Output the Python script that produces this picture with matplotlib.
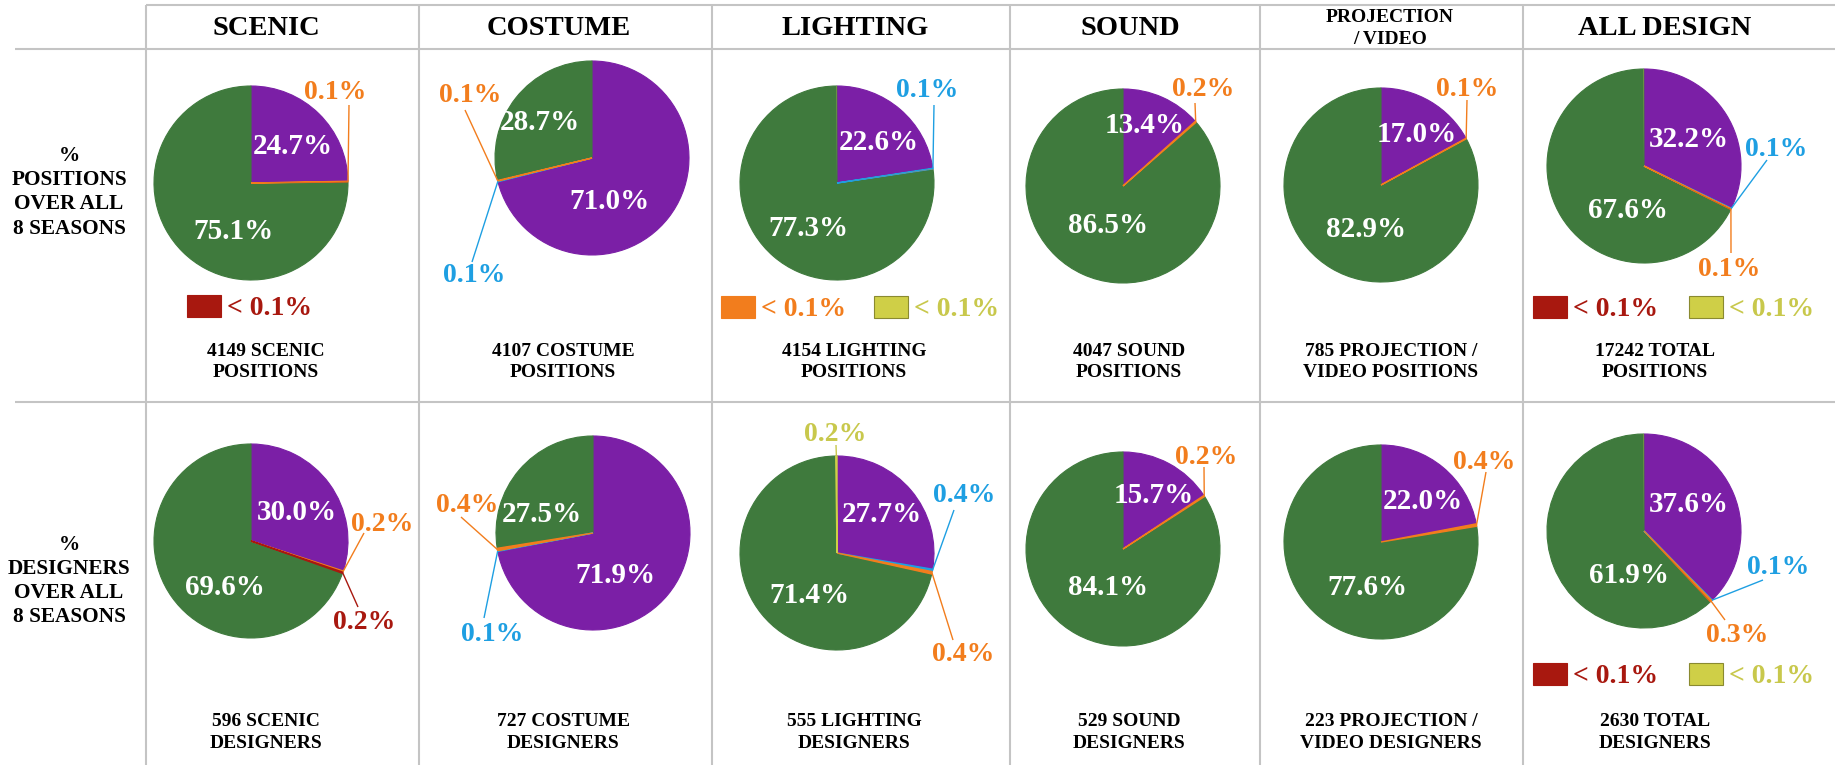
import matplotlib
matplotlib.use('Agg')
import matplotlib.pyplot as plt
from matplotlib.patches import Rectangle
import numpy as np

W, H = 1835, 765
FONT = 'Liberation Serif'

# slice order (clockwise from 12 o'clock): purple, blue, orange, dark red, green, yellow
SLICE_COLORS = ['#7b1fa6', '#1e9fe2', '#f27d1d', '#a8180f', '#3f7a3d', '#cfcf47']
TEXT_COLORS = ['#ffffff', '#1e9fe2', '#f27d1d', '#a8180f', '#ffffff', '#c8c84c']

COLUMNS = ['SCENIC', 'COSTUME', 'LIGHTING', 'SOUND', 'PROJECTION\n/ VIDEO', 'ALL DESIGN']
ROW_LABELS = [['%', 'POSITIONS', 'OVER ALL', '8 SEASONS'],
              ['%', 'DESIGNERS', 'OVER ALL', '8 SEASONS']]

TOTAL_POSITIONS = [4149, 4107, 4154, 4047, 785, 17242]
TOTAL_DESIGNERS = [596, 727, 555, 529, 223, 2630]
CAPTION_WORDS = [('SCENIC', ''), ('COSTUME', ''), ('LIGHTING', ''), ('SOUND', ''),
                 ('PROJECTION /', 'VIDEO '), ('TOTAL', '')]

# values in percent (values shown as "< 0.1%" estimated as 0.05)
POS_SCENIC = [24.7, 0.0, 0.1, 0.05, 75.1, 0.0]
POS_COSTUME = [71.0, 0.1, 0.1, 0.0, 28.7, 0.0]
POS_LIGHTING = [22.6, 0.1, 0.05, 0.0, 77.3, 0.05]
POS_SOUND = [13.4, 0.0, 0.2, 0.0, 86.5, 0.0]
POS_PROJECTION = [17.0, 0.0, 0.1, 0.0, 82.9, 0.0]
POS_ALL = [32.2, 0.1, 0.1, 0.05, 67.6, 0.05]

DES_SCENIC = [30.0, 0.0, 0.2, 0.2, 69.6, 0.0]
DES_COSTUME = [71.9, 0.1, 0.4, 0.0, 27.5, 0.0]
DES_LIGHTING = [27.7, 0.4, 0.4, 0.0, 71.4, 0.2]
DES_SOUND = [15.7, 0.0, 0.2, 0.0, 84.1, 0.0]
DES_PROJECTION = [22.0, 0.0, 0.4, 0.0, 77.6, 0.0]
DES_ALL = [37.6, 0.1, 0.3, 0.05, 61.9, 0.05]

VALUES = [[POS_SCENIC, POS_COSTUME, POS_LIGHTING, POS_SOUND, POS_PROJECTION, POS_ALL],
          [DES_SCENIC, DES_COSTUME, DES_LIGHTING, DES_SOUND, DES_PROJECTION, DES_ALL]]

# ---------------- layout (image pixel coords, y down) ----------------
R = 97
CENTERS = [[(251, 183), (592, 158), (837, 183), (1123, 186), (1381, 185), (1644, 166)],
           [(251, 541), (593, 533), (837, 553), (1123, 549), (1381, 542), (1644, 531)]]
# inner label positions: purple, green
INNER = [[((293, 144), (233, 229)), ((609, 199), (540, 120)), ((879, 140), (808, 226)),
          ((1145, 123), (1108, 223)), ((1417, 132), (1366, 227)), ((1689, 137), (1628, 208))],
         [((297, 510), (225, 585)), ((615, 573), (542, 512)), ((882, 512), (809, 593)),
          ((1154, 493), (1108, 585)), ((1423, 499), (1367, 585)), ((1689, 502), (1629, 573))]]
# outer labels: (slice index, label centre, leader start)
OUTER = [[[(2, (335, 90), (349, 105))],
          [(2, (470, 93), (465, 110)), (1, (474, 273), (472, 262))],
          [(1, (927, 88), (934, 105))],
          [(2, (1203, 87), (1195, 103))],
          [(2, (1467, 87), (1467, 100))],
          [(1, (1776, 147), (1767, 160)), (2, (1729, 267), (1731, 253))]],
         [[(2, (382, 522), (364, 533)), (3, (364, 620), (358, 607))],
          [(2, (467, 503), (461, 517)), (1, (492, 632), (484, 618))],
          [(5, (835, 432), (836, 445)), (1, (964, 493), (954, 510)), (2, (963, 652), (953, 640))],
          [(2, (1206, 455), (1204, 467))],
          [(2, (1484, 460), (1486, 472))],
          [(1, (1778, 565), (1763, 580)), (2, (1737, 633), (1725, 620))]]]
# legends for "< 0.1%" slices: (slice index, square left x, y centre)
LEGENDS = [[[(3, 187, 306)], [], [(2, 721, 307), (5, 874, 307)], [], [], [(3, 1533, 307), (5, 1689, 307)]],
           [[], [], [], [], [], [(3, 1533, 674), (5, 1689, 674)]]]
HEADER_X = [266, 559, 855, 1130, 1390, 1665]
CAPTION_X = [266, 563, 854, 1129, 1391, 1655]
CAPTION_Y = [(350, 371), (720, 742)]
ROW_LABEL_Y = [[154, 178, 202, 227], [543, 567, 591, 615]]
V_LINES = [146, 419, 712, 1010, 1260, 1523]

fig = plt.figure(figsize=(W / 100, H / 100), dpi=100)
ax = fig.add_axes([0, 0, 1, 1])


def put(x, y, s, size, color='black', ha='center'):
    px = size * 100 / 72
    ax.text(x, H - (y + 0.33 * px), s, fontsize=size, fontfamily=FONT,
            fontweight='bold', color=color, ha=ha, va='baseline')


def line(x0, y0, x1, y1, color='#c4c4c4', lw=1.5, z=1):
    ax.plot([x0, x1], [H - y0, H - y1], color=color, lw=lw, solid_capstyle='butt', zorder=z)


# grid
line(V_LINES[0], 5, W, 5)
line(15, 49, W, 49)
line(15, 402, W, 402)
for x in V_LINES:
    line(x, 5, x, H)

# headers
for j, name in enumerate(COLUMNS):
    if '\n' in name:
        a, b = name.split('\n')
        put(HEADER_X[j], 16, a, 14)
        put(HEADER_X[j], 38, b, 14)
    else:
        put(HEADER_X[j], 26, name, 20.5)

# row labels
for r in range(2):
    for s, y in zip(ROW_LABELS[r], ROW_LABEL_Y[r]):
        put(69, y, s, 15.3)

for r in range(2):
    totals = TOTAL_POSITIONS if r == 0 else TOTAL_DESIGNERS
    kind = 'POSITIONS' if r == 0 else 'DESIGNERS'
    for j in range(6):
        vals = VALUES[r][j]
        cx, cy = CENTERS[r][j]
        idx = [i for i, v in enumerate(vals) if v > 0]
        wedges, _ = ax.pie([vals[i] for i in idx], colors=[SLICE_COLORS[i] for i in idx],
                           startangle=90, counterclock=False, center=(cx, H - cy),
                           radius=R, frame=True)
        for w, i in zip(wedges, idx):
            v = vals[i]
            if v < 0.1:
                w.set_linewidth(0)
            else:
                w.set_edgecolor(SLICE_COLORS[i])
                w.set_linewidth(0.8 if v >= 1 else 1.0)
            w.set_zorder(3 if v < 1 else 2)
        total = sum(vals)
        # inner labels
        for k, i in enumerate((0, 4)):
            (lx, ly) = INNER[r][j][k]
            put(lx, ly, f'{vals[i]:.1f}%', 21, color='white')
        # outer labels with leaders
        for i, (lx, ly), (sx, sy) in OUTER[r][j]:
            mid = sum(vals[:i]) + vals[i] / 2
            th = np.radians(90 - 360 * mid / total)
            ex, ey = cx + R * np.cos(th), cy - R * np.sin(th)
            line(sx, sy, ex, ey, color=TEXT_COLORS[i], lw=1.0, z=4)
            put(lx, ly, f'{vals[i]:.1f}%', 20, color=TEXT_COLORS[i])
        # legends for tiny slices
        for i, x0, yc in LEGENDS[r][j]:
            ec = '#8a8a30' if i == 5 else SLICE_COLORS[i]
            ax.add_patch(Rectangle((x0, H - (yc + 11)), 34, 22, facecolor=SLICE_COLORS[i],
                                   edgecolor=ec, lw=0.8, zorder=3))
            put(x0 + 40, yc, '< 0.1%', 20, color=TEXT_COLORS[i], ha='left')
        # captions
        w1, w2 = CAPTION_WORDS[j]
        put(CAPTION_X[j], CAPTION_Y[r][0], f'{totals[j]} {w1}', 14)
        put(CAPTION_X[j], CAPTION_Y[r][1], f'{w2}{kind}', 14)

ax.set_xlim(0, W)
ax.set_ylim(0, H)
ax.set_aspect('auto')
ax.axis('off')
fig.savefig('out.png', dpi=100, facecolor='white')
